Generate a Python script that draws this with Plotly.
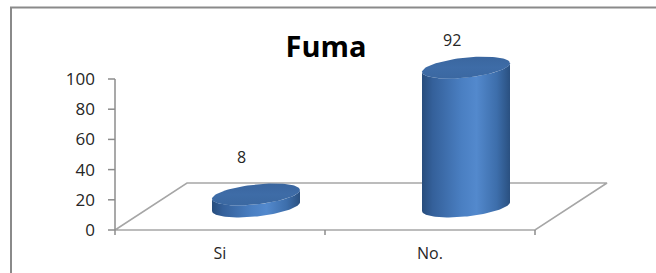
import numpy as np
import plotly.graph_objects as go

# ---- data ----
categories = ["Si", "No."]
values = [8, 92]
y_ticks = [0, 20, 40, 60, 80, 100]
title_text = "Fuma"

# ---- geometry (pixel layout) ----
W, H = 656, 273
PL, PR, PT, PB = 100, 620, 25, 240          # plot area in pixels
X0_PX, XUNIT = 115, 210.0                   # pixel of x=-0.5, px per category
Y0_PX, YUNIT = 230, 1.51                    # pixel of y=0, px per value unit

x_range = [-0.5 - (X0_PX - PL) / XUNIT, -0.5 + (PR - X0_PX) / XUNIT]
y_range = [-(PB - Y0_PX) / YUNIT, (Y0_PX - PT) / YUNIT]

DX = 72 / XUNIT      # depth offset in x units
DY = 47 / YUNIT      # depth offset in y units
R = 44 / XUNIT       # cylinder half width
RY = 10 / YUNIT      # ellipse vertical radius
SKEW = 0.1 * XUNIT / YUNIT

grid_col = "#a6a6a6"
axis_col = "#8c8c8c"
text_col = "#262626"

fig = go.Figure()

def seg(xs, ys, color, width=1.5):
    fig.add_trace(go.Scatter(x=xs, y=ys, mode="lines", hoverinfo="skip",
                             line=dict(color=color, width=width)))

# floor
n = len(categories)
xl, xr = -0.5, n - 0.5
seg([xl, xr, xr + DX, xl + DX, xl], [0, 0, DY, DY, 0], grid_col)
# y axis line and ticks
seg([xl, xl], [0, max(y_ticks)], axis_col)
for v in y_ticks:
    seg([xl - 7 / XUNIT, xl], [v, v], axis_col)
# x ticks at category boundaries
for b in np.arange(xl, xr + 0.01, 1.0):
    seg([b, b], [0, -5 / YUNIT], axis_col)

# cylinders
def ellipse(cx, cy, t):
    ex = cx + R * np.cos(t)
    ey = cy + RY * np.sin(t) + SKEW * (R * np.cos(t))
    return ex, ey

side_scale = [[0, "#284d7c"], [0.12, "#34609a"], [0.45, "#4a7fc2"],
              [0.62, "#5389cd"], [0.85, "#3d6eab"], [1, "#2a5080"]]
cap_scale = [[0, "#3b68a1"], [0.5, "#3e6ca7"], [1, "#3a669f"]]

for i, v in enumerate(values):
    cx = i + DX / 2
    cb = DY / 2
    ct = cb + v
    tb = np.linspace(np.pi, 2 * np.pi, 60)
    bx, by = ellipse(cx, cb, tb)
    tx, ty = ellipse(cx, ct, tb[::-1])
    xs = np.concatenate([bx, tx, bx[:1]])
    ys = np.concatenate([by, ty, by[:1]])
    fig.add_trace(go.Scatter(x=xs, y=ys, mode="lines", fill="toself",
                             line=dict(width=0, color="rgba(0,0,0,0)"),
                             fillgradient=dict(type="horizontal", colorscale=side_scale),
                             hoverinfo="skip"))
    tc = np.linspace(0, 2 * np.pi, 90)
    cxs, cys = ellipse(cx, ct, tc)
    fig.add_trace(go.Scatter(x=cxs, y=cys, mode="lines", fill="toself",
                             line=dict(width=0, color="rgba(0,0,0,0)"),
                             fillgradient=dict(type="vertical", colorscale=cap_scale),
                             hoverinfo="skip"))
    # data label
    fig.add_annotation(x=i + DX * 0.3, y=v * 0.92 + 41, text=str(v), showarrow=False,
                       font=dict(family="Open Sans", size=16, color=text_col))

# outer border
def px_to_paper_x(px):
    return (px - PL) / (PR - PL)

def px_to_paper_y(py):
    return (PB - py) / (PB - PT)

fig.add_shape(type="rect", xref="paper", yref="paper",
              x0=px_to_paper_x(11), x1=px_to_paper_x(670),
              y0=px_to_paper_y(290), y1=px_to_paper_y(7.5),
              line=dict(color="#8a8a8a", width=2), fillcolor="rgba(0,0,0,0)")

fig.update_layout(
    width=W, height=H,
    margin=dict(l=PL, r=W - PR, t=PT, b=H - PB),
    paper_bgcolor="white", plot_bgcolor="white",
    showlegend=False,
    title=dict(text="<b>%s</b>" % title_text, x=326 / W, y=1 - 47 / H,
               xanchor="center", yanchor="middle", xref="container",
               yref="container",
               font=dict(family="Open Sans", size=29, color="black")),
    xaxis=dict(range=x_range, tickvals=list(range(n)), ticktext=categories,
               showgrid=False, zeroline=False, showline=False, ticks="",
               ticklabelstandoff=2, automargin=False,
               tickfont=dict(family="Open Sans", size=16, color=text_col)),
    yaxis=dict(range=y_range, tickvals=y_ticks, showgrid=False, zeroline=False,
               showline=False, ticks="", ticklabelstandoff=4, automargin=False,
               tickfont=dict(family="Open Sans", size=17, color=text_col)),
)

fig.write_html("out.html", config={"displayModeBar": False},
               post_script="document.body.style.margin='0';document.body.style.overflow='hidden';")
